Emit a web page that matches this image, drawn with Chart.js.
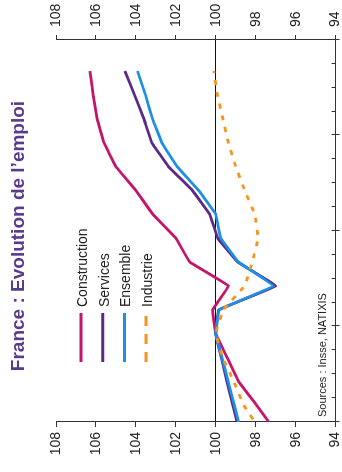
<!DOCTYPE html>
<html>
<head>
<meta charset="utf-8">
<script src="https://cdn.jsdelivr.net/npm/chart.js@4.4.1/dist/chart.umd.min.js"></script>
<style>
  html, body { margin: 0; padding: 0; background: #fff; overflow: hidden; width: 342px; height: 472px; }
  /* the chart is laid out landscape and turned a quarter turn to read bottom-to-top */
  #frame { position: absolute; left: 0; top: 0; width: 472px; height: 352px;
           transform-origin: 0 0; transform: translate(0, 472px) rotate(-90deg); }
  canvas { display: block; }
</style>
</head>
<body>
<div id="frame"><canvas id="chart" width="472" height="352"></canvas></div>
<script>
// Quarterly employment by sector, index base 100 (fourth quarter shown)
const quarters = [0, 1, 2, 3, 4, 5, 6, 7, 8, 9, 10, 11, 12, 13, 14, 15];
const construction = [97.08, 97.95, 98.86, 99.43, 100, 100.16, 99.36, 101.3, 102.0, 103.15, 104.0, 105.0, 105.6, 105.94, 106.14, 106.3];
const services     = [98.85, 99.15, 99.45, 99.72, 100, 99.85, 97.0, 98.9, 99.9, 100.3, 101.17, 102.37, 103.2, 103.6, 104.07, 104.55];
const ensemble     = [98.76, 99.07, 99.38, 99.69, 100, 99.82, 97.1, 98.86, 99.75, 100.0, 100.86, 101.94, 102.7, 103.17, 103.52, 103.92];
const industrie    = [97.8, 98.6, 99.1, 99.65, 100, 99.62, 98.55, 98.17, 97.88, 98.05, 98.55, 99.0, 99.37, 99.65, 99.92, 100.1];
const valueTicks = [94, 96, 98, 100, 102, 104, 106, 108];
const seriesNames = ['Construction', 'Services', 'Ensemble', 'Industrie'];

// observations fall a little before each quarter tick; the axis covers 16 quarters
const OBS_SHIFT = -0.3;
const AXIS_QUARTERS = 16;

const FONT = '"Liberation Sans", Arial, Helvetica, sans-serif';
Chart.defaults.font.family = FONT;
Chart.defaults.color = '#222';

const toPoints = vals => quarters.map((q, i) => ({ x: q + OBS_SHIFT, y: vals[i] }));

const lineStyle = (label, values, color, order, dash) => ({
  label,
  data: toPoints(values),
  borderColor: color,
  borderWidth: 2.8,
  borderDash: dash || [],
  legendDash: dash ? [10, 8] : [],
  pointRadius: 0,
  tension: 0.05,
  fill: false,
  clip: 0,
  order
});

// ticks on the time axis, the legend block and the source note
const decor = {
  id: 'decor',
  afterDraw(chart) {
    const { ctx, chartArea, scales } = chart;
    const xs = scales.x;
    ctx.save();
    ctx.strokeStyle = '#333';
    ctx.lineWidth = 1;
    xs.ticks.forEach(t => {
      const px = Math.round(xs.getPixelForValue(t.value)) + 0.5;
      const major = t.value % 4 === 0;
      ctx.beginPath();
      ctx.moveTo(px, chartArea.bottom - 4);
      ctx.lineTo(px, chartArea.bottom + (major ? 4 : 0));
      ctx.stroke();
    });

    chart.data.datasets.forEach((ds, i) => {
      const y = 81 + i * 21.7;
      ctx.strokeStyle = ds.borderColor;
      ctx.lineWidth = 3;
      ctx.setLineDash(ds.legendDash);
      ctx.beginPath();
      ctx.moveTo(110, y);
      ctx.lineTo(159, y);
      ctx.stroke();
      ctx.setLineDash([]);
      ctx.fillStyle = '#222';
      ctx.font = '14px ' + FONT;
      ctx.textBaseline = 'middle';
      ctx.textAlign = 'left';
      ctx.fillText(ds.label, 165, y + 2);
    });

    ctx.fillStyle = '#222';
    ctx.font = '11px ' + FONT;
    ctx.textBaseline = 'alphabetic';
    ctx.fillText('Sources : Insse, NATIXIS', 55, 326);
    ctx.restore();
  }
};

const valueAxis = (position, width, pad, onArea) => ({
  type: 'linear',
  position,
  display: true,
  min: valueTicks[0],
  max: valueTicks[valueTicks.length - 1],
  afterBuildTicks: s => { s.ticks = valueTicks.map(v => ({ value: v })); },
  afterFit: s => { s.width = width; },
  ticks: { font: { size: 14 }, color: '#222', padding: pad },
  grid: {
    drawOnChartArea: onArea,
    color: c => (c.tick && c.tick.value === 100) ? '#111' : 'rgba(0,0,0,0)',
    lineWidth: 1,
    tickColor: '#333',
    tickLength: 5,
    drawTicks: true
  },
  border: { display: true, color: '#333', width: 1 }
});

new Chart(document.getElementById('chart'), {
  type: 'line',
  data: {
    datasets: [
      lineStyle(seriesNames[0], construction, '#c4146c', 2),
      lineStyle(seriesNames[1], services, '#5b2a86', 3),
      lineStyle(seriesNames[2], ensemble, '#1e8fe6', 1),
      lineStyle(seriesNames[3], industrie, '#f7941d', 0, [5, 7])
    ]
  },
  options: {
    responsive: false,
    animation: false,
    devicePixelRatio: 1,
    layout: { padding: 0 },
    plugins: {
      legend: { display: false },
      tooltip: { enabled: false },
      title: {
        display: true,
        text: 'France : Evolution de l’emploi',
        color: '#5a3a8c',
        font: { size: 19, weight: 'bold', family: FONT, lineHeight: 1.2 },
        padding: { top: 7, bottom: 26.2 }
      }
    },
    scales: {
      x: {
        type: 'linear',
        min: 0,
        max: AXIS_QUARTERS,
        afterFit: s => { s.height = 16; },
        ticks: { display: false, stepSize: 1 },
        grid: { display: true, drawOnChartArea: false, drawTicks: false, color: 'rgba(0,0,0,0)' },
        border: { display: true, color: '#333', width: 1 }
      },
      y: valueAxis('left', 50, 5, true),
      y2: valueAxis('right', 40, 8, false)
    }
  },
  plugins: [decor]
});
</script>
</body>
</html>
